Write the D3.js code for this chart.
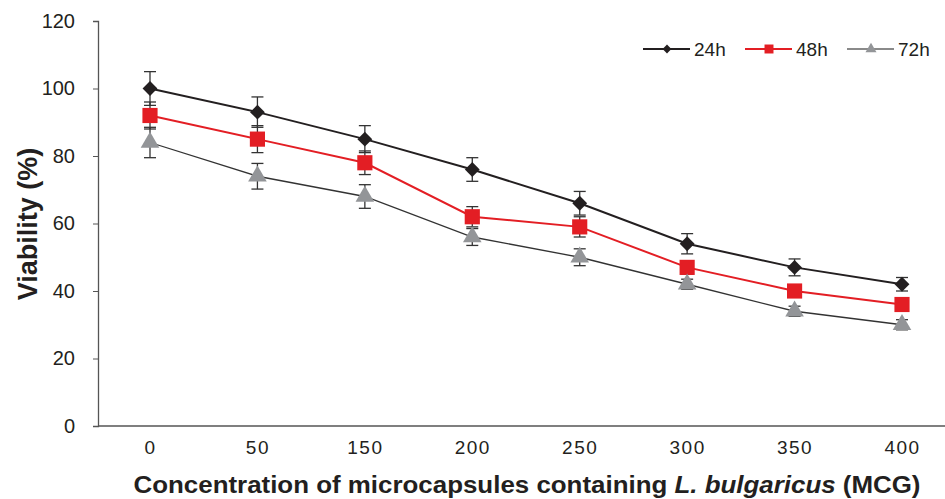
<!DOCTYPE html>
<html>
<head>
<meta charset="utf-8">
<script src="https://cdn.jsdelivr.net/npm/d3@7"></script>
<style>
  body { margin: 0; background: #fff; }
  text { font-family: "Liberation Sans", Arial, sans-serif; fill: #231f20; }
</style>
</head>
<body>
<div id="vis"></div>
<script>
// Categories (concentration) and series values
var concentrations = ['0', '50', '150', '200', '250', '300', '350', '400'];
var yTicks = [0, 20, 40, 60, 80, 100, 120];

var viability24 = [100, 93, 85, 76, 66, 54, 47, 42];
var error24 = [5, 4.5, 4, 3.5, 3.5, 3, 2.5, 2];
var viability48 = [92, 85, 78, 62, 59, 47, 40, 36];
var error48 = [4, 4, 3.5, 3, 3, 2, 1.5, 1.5];
var viability72 = [84, 74, 68, 56, 50, 42, 34, 30];
var error72 = [4.5, 3.8, 3.5, 2.5, 2.5, 1.5, 1.5, 1.5];

var seriesNames = ['24h', '48h', '72h'];

var width = 945, height = 499;
var margin = { left: 98, top: 21, right: 0, bottom: 73 };
var drawHeight = height - margin.top - margin.bottom;

var svg = d3.select('#vis').append('svg')
    .attr('width', width)
    .attr('height', height);

// Scales
var xScale = d3.scalePoint()
    .domain(concentrations)
    .range([150, 902]);

var yScale = d3.scaleLinear()
    .domain([0, 120])
    .range([margin.top + drawHeight, margin.top]);

// Y axis
var yAxis = d3.axisLeft(yScale)
    .tickValues(yTicks)
    .tickSize(5)
    .tickPadding(18);

var yAxisG = svg.append('g')
    .attr('transform', 'translate(' + margin.left + ',0)')
    .call(yAxis);
yAxisG.select('.domain').attr('stroke', '#555').attr('stroke-width', 1.3);
yAxisG.selectAll('.tick line').attr('stroke', '#555');
yAxisG.selectAll('.tick text')
    .style('font-size', '20px')
    .style('font-family', '"Liberation Sans", Arial, sans-serif')
    .attr('fill', '#231f20');

// X axis: baseline only, labels without ticks
svg.append('line')
    .attr('x1', margin.left).attr('x2', width)
    .attr('y1', yScale(0)).attr('y2', yScale(0))
    .attr('stroke', '#555').attr('stroke-width', 1.3);

var xAxis = d3.axisBottom(xScale).tickSize(0).tickPadding(15);
var xAxisG = svg.append('g')
    .attr('transform', 'translate(0,' + yScale(0) + ')')
    .call(xAxis);
xAxisG.select('.domain').remove();
xAxisG.selectAll('.tick text')
    .style('font-size', '19px')
    .style('font-family', '"Liberation Sans", Arial, sans-serif')
    .style('letter-spacing', '1.5px')
    .attr('fill', '#231f20');

// Axis titles
var xTitle = svg.append('text')
    .attr('x', 527)
    .attr('y', 493)
    .attr('text-anchor', 'middle')
    .attr('textLength', 787)
    .attr('lengthAdjust', 'spacingAndGlyphs')
    .style('font-size', '24px')
    .style('font-weight', 'bold');
xTitle.append('tspan').text('Concentration of microcapsules containing ');
xTitle.append('tspan').style('font-style', 'italic').text('L. bulgaricus');
xTitle.append('tspan').text(' (MCG)');

svg.append('text')
    .attr('transform', 'translate(37,' + 224 + ') rotate(-90)')
    .attr('text-anchor', 'middle')
    .style('font-size', '27px')
    .style('font-weight', 'bold')
    .text('Viability (%)');

// Series definitions
var series = [
    { name: seriesNames[0], values: viability24, errors: error24, line: '#231f20', lineWidth: 2, fill: '#231f20', shape: d3.symbolSquare, rotate: 45, size: 110, legendLine: '#231f20' },
    { name: seriesNames[1], values: viability48, errors: error48, line: '#e31e24', lineWidth: 2, fill: '#e31e24', shape: d3.symbolSquare, rotate: 0, size: 230, legendLine: '#e31e24' },
    { name: seriesNames[2], values: viability72, errors: error72, line: '#333', lineWidth: 1.3, fill: '#939598', shape: d3.symbolTriangle, rotate: 0, size: 150, legendLine: '#8a8a8a' }
];

var lineGen = d3.line()
    .x(function (d, i) { return xScale(concentrations[i]); })
    .y(function (d) { return yScale(d); });

var capHalf = 6;

// Error bars first so markers sit on top
series.forEach(function (s) {
    var eg = svg.append('g').attr('class', 'errors');
    s.values.forEach(function (v, i) {
        var x = xScale(concentrations[i]);
        var yTop = yScale(v + s.errors[i]);
        var yBot = yScale(v - s.errors[i]);
        eg.append('line').attr('x1', x).attr('x2', x).attr('y1', yTop).attr('y2', yBot)
            .attr('stroke', '#333').attr('stroke-width', 1.3);
        eg.append('line').attr('x1', x - capHalf).attr('x2', x + capHalf).attr('y1', yTop).attr('y2', yTop)
            .attr('stroke', '#333').attr('stroke-width', 1.3);
        eg.append('line').attr('x1', x - capHalf).attr('x2', x + capHalf).attr('y1', yBot).attr('y2', yBot)
            .attr('stroke', '#333').attr('stroke-width', 1.3);
    });
});

series.forEach(function (s) {
    svg.append('path')
        .datum(s.values)
        .attr('d', lineGen)
        .attr('fill', 'none')
        .attr('stroke', s.line)
        .attr('stroke-width', s.lineWidth);

    svg.append('g').selectAll('path')
        .data(s.values)
        .enter().append('path')
        .attr('transform', function (d, i) {
            return 'translate(' + xScale(concentrations[i]) + ',' + yScale(d) + ') rotate(' + s.rotate + ')';
        })
        .attr('d', d3.symbol().type(s.shape).size(s.size))
        .attr('fill', s.fill);
});

// Legend
var legendX = [643, 745, 847];
var legendY = 49;
series.forEach(function (s, i) {
    var lg = svg.append('g').attr('transform', 'translate(' + legendX[i] + ',' + legendY + ')');
    lg.append('line').attr('x1', 0).attr('x2', 47).attr('y1', 0).attr('y2', 0)
        .attr('stroke', s.legendLine).attr('stroke-width', 1.8);
    lg.append('path')
        .attr('transform', 'translate(24,0) rotate(' + s.rotate + ')')
        .attr('d', d3.symbol().type(s.shape).size(s.size * 0.35))
        .attr('fill', s.fill);
    lg.append('text')
        .attr('x', 51)
        .attr('y', 7)
        .style('font-size', '19px')
        .text(s.name);
});
</script>
</body>
</html>
